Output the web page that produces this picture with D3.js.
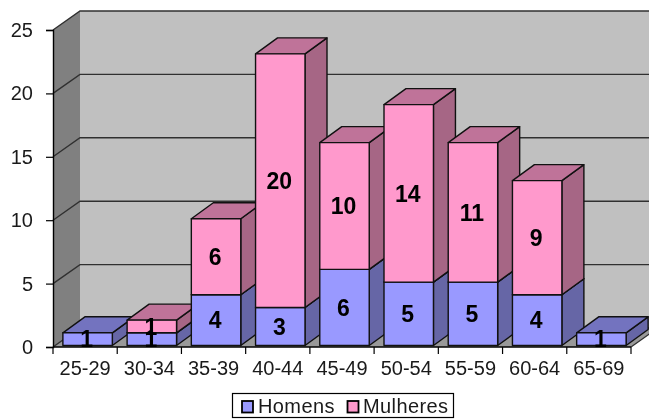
<!DOCTYPE html>
<html>
<head>
<meta charset="utf-8">
<style>
  body { margin: 0; background: #fff; overflow: hidden; }
  svg { display: block; filter: blur(0.35px); }
  text { font-family: "Liberation Sans", Arial, sans-serif; fill: #1a1a1a; }
</style>
<script src="https://cdn.jsdelivr.net/npm/d3@7"></script>
</head>
<body>
<div id="chart"></div>
<script>
var categories = ["25-29", "30-34", "35-39", "40-44", "45-49", "50-54", "55-59", "60-64", "65-69"];
var homens = [1, 1, 4, 3, 6, 5, 5, 4, 1];
var mulheres = [0, 1, 6, 20, 10, 14, 11, 9, 0];
var yTicks = [0, 5, 10, 15, 20, 25];

var width = 649,
    height = 419,
    x0 = 53,
    x1 = 631,
    y0 = 347,
    y1 = 30,
    wallDx = 27,
    wallDy = -19,
    barDx = 22,
    barDy = -16,
    barOffX = 2.5,
    barOffY = -1.5;

var colors = {
  homens: { front: "#9999ff", top: "#7373bf", side: "#6666a6" },
  mulheres: { front: "#ff99cc", top: "#bf7399", side: "#a66685" }
};

var x = d3.scaleBand().domain(categories).range([x0, x1]).paddingInner(0.23).paddingOuter(0.115);
var step = d3.scaleBand().domain(categories).range([x0, x1]);
var y = d3.scaleLinear().domain([0, 25]).range([y0, y1]);

var svg = d3.select("#chart").append("svg")
  .attr("width", width)
  .attr("height", height);

function poly(points, fill) {
  return svg.append("polygon")
    .attr("points", points.map(function (p) { return p.join(","); }).join(" "))
    .attr("fill", fill);
}

// back wall, side wall, floor
poly([[x0 + wallDx, y1 + wallDy], [width + 5, y1 + wallDy], [width + 5, y0 + wallDy], [x0 + wallDx, y0 + wallDy]], "#c0c0c0");
poly([[x0, y1], [x0 + wallDx, y1 + wallDy], [x0 + wallDx, y0 + wallDy], [x0, y0]], "#808080");
poly([[x0, y0], [x0 + wallDx, y0 + wallDy], [x1 + wallDx, y0 + wallDy], [x1, y0]], "#999999");

// gridlines
yTicks.forEach(function (t) {
  svg.append("path")
    .attr("d", "M" + x0 + "," + y(t) + "L" + (x0 + wallDx) + "," + (y(t) + wallDy) + "L" + (width + 5) + "," + (y(t) + wallDy))
    .attr("fill", "none")
    .attr("stroke", "#303030")
    .attr("stroke-width", 1.4);
});

// y axis
var yAxis = d3.axisLeft(y).tickValues(yTicks).tickSize(7).tickPadding(13);
var gy = svg.append("g").attr("transform", "translate(" + x0 + ",0)").call(yAxis);
gy.select(".domain").attr("stroke", "#000").attr("stroke-width", 1.4);
gy.selectAll("line").attr("stroke", "#000").attr("stroke-width", 1.2);
gy.selectAll("text").style("font-size", "20px").attr("fill", "#1a1a1a");

// x axis line and ticks
var xAxis = d3.axisBottom(x).tickSize(0).tickPadding(14);
var gx = svg.append("g").attr("transform", "translate(0," + y0 + ")").call(xAxis);
gx.select(".domain").remove();
gx.selectAll("text").style("font-size", "20px").attr("fill", "#1a1a1a");
svg.append("line")
  .attr("x1", x0).attr("x2", x1).attr("y1", y0).attr("y2", y0)
  .attr("stroke", "#000").attr("stroke-width", 1.4);
categories.forEach(function (c) {
  svg.append("line")
    .attr("x1", step(c)).attr("x2", step(c)).attr("y1", y0).attr("y2", y0 + 7)
    .attr("stroke", "#000").attr("stroke-width", 1.2);
});
svg.append("line")
  .attr("x1", x1).attr("x2", x1).attr("y1", y0).attr("y2", y0 + 7)
  .attr("stroke", "#000").attr("stroke-width", 1.2);
svg.append("line")
  .attr("x1", x1).attr("x2", x1 + wallDx).attr("y1", y0).attr("y2", y0 + wallDy)
  .attr("stroke", "#303030").attr("stroke-width", 1.2);

// one 3d box per segment, left to right so the next bar covers the last one's side
function box(cat, from, to, c) {
  var l = x(cat) + barOffX,
      r = l + x.bandwidth(),
      b = y(from) + barOffY,
      t = y(to) + barOffY;
  var g = svg.append("g")
    .attr("stroke", "#111")
    .attr("stroke-width", 1.4)
    .attr("stroke-linejoin", "round");
  var pts = function (a) { return a.map(function (p) { return p.join(","); }).join(" "); };
  g.append("polygon").attr("fill", c.side)
    .attr("points", pts([[r, b], [r + barDx, b + barDy], [r + barDx, t + barDy], [r, t]]));
  g.append("polygon").attr("fill", c.top)
    .attr("points", pts([[l, t], [l + barDx, t + barDy], [r + barDx, t + barDy], [r, t]]));
  g.append("polygon").attr("fill", c.front)
    .attr("points", pts([[l, b], [r, b], [r, t], [l, t]]));
}

categories.forEach(function (c, i) {
  box(c, 0, homens[i], colors.homens);
  if (mulheres[i] > 0) box(c, homens[i], homens[i] + mulheres[i], colors.mulheres);
});

// value labels go on top of all the bars
function label(cat, from, v) {
  svg.append("text")
    .attr("x", x(cat) + barOffX + x.bandwidth() / 2 - 1)
    .attr("y", y(from + v / 2) + barOffY)
    .attr("dy", "0.36em")
    .attr("text-anchor", "middle")
    .style("font-size", "23px")
    .style("font-weight", "bold")
    .style("fill", "#000")
    .text(v);
}
categories.forEach(function (c, i) {
  label(c, 0, homens[i]);
  if (mulheres[i] > 0) label(c, homens[i], mulheres[i]);
});

// legend
svg.append("rect")
  .attr("x", 232.5).attr("y", 393.5).attr("width", 221).attr("height", 24)
  .attr("fill", "#fff").attr("stroke", "#000").attr("stroke-width", 1.2);
[["Homens", colors.homens.front, 242, 258], ["Mulheres", colors.mulheres.front, 347.5, 363]].forEach(function (d) {
  svg.append("rect")
    .attr("x", d[2]).attr("y", 401).attr("width", 11).attr("height", 11.5)
    .attr("fill", d[1]).attr("stroke", "#000").attr("stroke-width", 1.8);
  svg.append("text")
    .attr("x", d[3]).attr("y", 412.5)
    .style("font-size", "20px")
    .style("letter-spacing", "0.4px")
    .text(d[0]);
});
</script>
</body>
</html>
